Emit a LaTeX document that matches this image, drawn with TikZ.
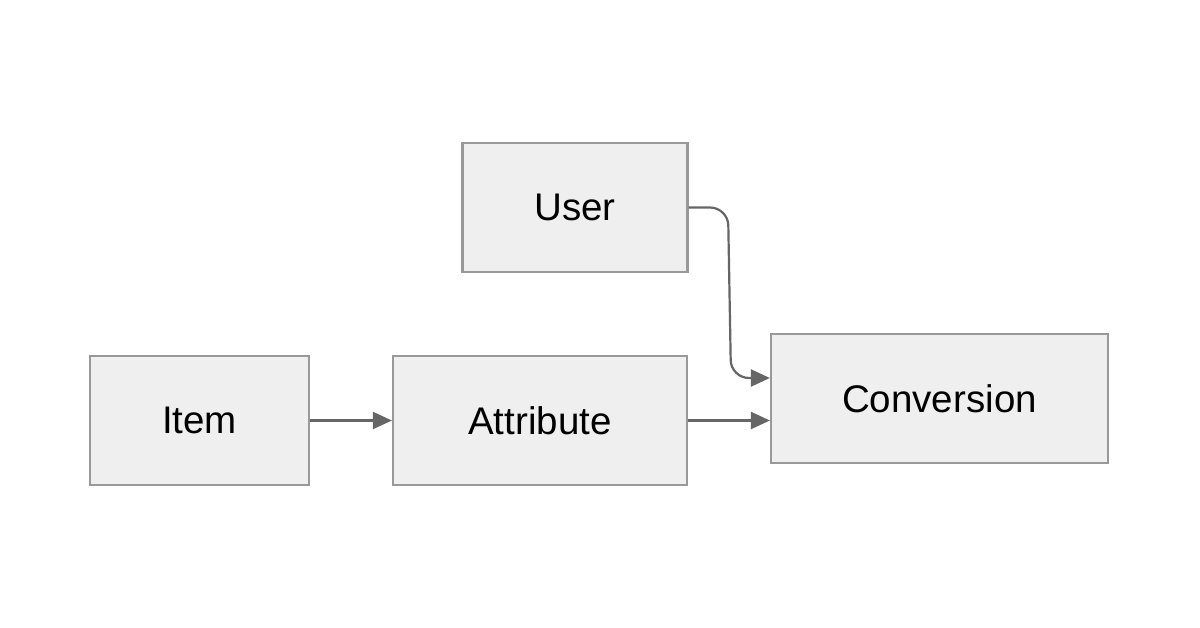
\documentclass[tikz,border=0pt]{standalone}
\usepackage{fontspec}
\setmainfont{Liberation Sans}
\usetikzlibrary{arrows.meta,calc}
\definecolor{boxfill}{HTML}{EFEFEF}
\definecolor{boxline}{HTML}{999999}
\definecolor{arrowcol}{HTML}{666666}
\begin{document}
\begin{tikzpicture}[x=1pt,y=-1pt,
  entity/.style={draw=boxline,fill=boxfill,line width=2.2pt,inner sep=0pt,
    font=\fontsize{38.5}{40}\selectfont},
  conn/.style={draw=arrowcol,line width=2.2pt,
    -{Triangle[length=19pt,width=17pt]}}]
\useasboundingbox[fill=white] (0,0) rectangle (1200,628);
\node[entity,minimum width=225pt,minimum height=129pt] (U) at (575,207.5) {User};
\node[entity,minimum width=219pt,minimum height=129pt] (I) at (199.5,420.5) {Item};
\node[entity,minimum width=294pt,minimum height=129pt] (A) at (540,420.5) {Attribute};
\node[entity,minimum width=337pt,minimum height=129pt] (C) at (939.5,398.5) {Conversion};
\coordinate (b1) at (728,207.5);
\coordinate (b2) at (731,378);
\draw[conn] (I.east) -- (A.west);
\draw[conn] (A.east) -- (A.east -| C.west);
\draw[conn,rounded corners=18pt] (U.east) -- (b1) -- (b2) -- (b2 -| C.west);
\end{tikzpicture}
\end{document}
